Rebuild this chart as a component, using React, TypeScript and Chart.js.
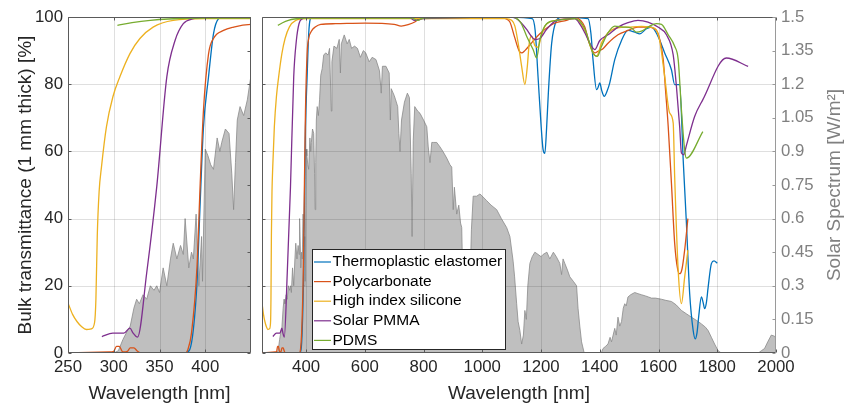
import React, { useEffect, useRef } from 'react';
import { Chart, registerables } from 'chart.js';

Chart.register(...registerables);

const FONT = '"Liberation Sans", Arial, Helvetica, sans-serif';

// Solar spectrum [nm, W/m^2/nm]
const SPECTRUM: [number, number][] = [
  [280, 0], [300, 0], [305, 0.01], [310, 0.06], [315, 0.1], [318, 0.12], [322, 0.2], [325, 0.24], [328, 0.22],
  [332, 0.26], [336, 0.24], [340, 0.3], [344, 0.28], [347, 0.3], [350, 0.27], [354, 0.38], [358, 0.3], [362, 0.42],
  [365, 0.49], [369, 0.42], [373, 0.48], [376, 0.44], [378, 0.6], [382, 0.38], [385, 0.45], [387, 0.42], [390, 0.62],
  [393, 0.3], [396, 0.52], [397, 0.32], [400, 0.91], [403, 0.88], [406, 0.84], [409, 0.82], [413, 0.96], [416, 0.9],
  [418, 0.94], [422, 1.0], [426, 0.98], [429, 0.8], [431, 0.64], [433, 0.85], [435, 1.04], [438, 1.1], [442, 1.06],
  [446, 1.13], [450, 1.24], [455, 1.27], [460, 1.33], [467, 1.34], [475, 1.33], [480, 1.36], [486, 1.08], [488, 1.3],
  [495, 1.37], [505, 1.36], [513, 1.4], [517, 1.25], [520, 1.38], [530, 1.42], [540, 1.38], [547, 1.4], [555, 1.36],
  [565, 1.37], [575, 1.36], [585, 1.32], [595, 1.35], [603, 1.34], [615, 1.3], [625, 1.32], [638, 1.31], [650, 1.26],
  [656, 1.16], [660, 1.28], [672, 1.28], [683, 1.25], [687, 1.04], [690, 1.18], [700, 1.15], [705, 1.13], [712, 1.1],
  [716, 0.98], [720, 0.9], [725, 1.04], [735, 1.12], [745, 1.16], [752, 1.14], [758, 0.8], [761, 0.52], [765, 0.95],
  [770, 1.1], [780, 1.08], [788, 1.07], [800, 1.04], [811, 1.01], [816, 0.92], [822, 0.85], [828, 0.94], [833, 0.94],
  [845, 0.94], [856, 0.92], [866, 0.9], [879, 0.87], [890, 0.84], [896, 0.83], [901, 0.64], [905, 0.74], [913, 0.62],
  [920, 0.66], [926, 0.58], [930, 0.56], [934, 0.3], [940, 0.1], [950, 0.15], [958, 0.3], [963, 0.55], [969, 0.7],
  [981, 0.7], [992, 0.71], [1000, 0.7], [1015, 0.68], [1030, 0.66], [1049, 0.64], [1065, 0.6], [1083, 0.56],
  [1094, 0.52], [1105, 0.41], [1110, 0.34], [1117, 0.22], [1122, 0.14], [1128, 0.1], [1134, 0.04], [1140, 0.08],
  [1145, 0.19], [1150, 0.15], [1155, 0.3], [1162, 0.4], [1170, 0.43], [1179, 0.45], [1190, 0.44], [1200, 0.43],
  [1207, 0.44], [1220, 0.45], [1230, 0.42], [1242, 0.45], [1252, 0.43], [1264, 0.4], [1270, 0.35], [1275, 0.42],
  [1281, 0.4], [1290, 0.37], [1298, 0.34], [1310, 0.32], [1321, 0.3], [1326, 0.2], [1332, 0.12], [1338, 0.05],
  [1347, 0], [1405, 0], [1411, 0.02], [1420, 0.03], [1428, 0.04], [1435, 0.07], [1440, 0.05], [1451, 0.11],
  [1456, 0.08], [1462, 0.16], [1468, 0.12], [1474, 0.14], [1480, 0.2], [1485, 0.22], [1490, 0.21], [1496, 0.25],
  [1505, 0.26], [1519, 0.27], [1530, 0.265], [1542, 0.26], [1555, 0.255], [1566, 0.25], [1576, 0.245], [1590, 0.245],
  [1610, 0.24], [1625, 0.235], [1644, 0.23], [1660, 0.215], [1678, 0.19], [1695, 0.175], [1712, 0.16], [1730, 0.145],
  [1746, 0.13], [1760, 0.115], [1769, 0.1], [1780, 0.07], [1791, 0.04], [1803, 0.01], [1814, 0], [1940, 0],
  [1950, 0.01], [1961, 0.02], [1972, 0.05], [1984, 0.08], [1995, 0.075], [2000, 0.065],
];

// Bulk transmittance [nm, %]
const TPE: [number, number][] = [
  [378, 0], [383, 1], [387, 7], [391, 21], [394.5, 45], [398, 67], [403.5, 82], [409, 95], [414.5, 99.5], [420, 100],
  [1100, 100], [1170, 99.5], [1180, 96], [1190, 82], [1200, 68], [1207, 60.5], [1213, 59.4], [1219, 67], [1225, 77.5],
  [1236, 92], [1253, 99], [1270, 100], [1360, 99.5], [1370, 95], [1377, 87.3], [1389, 78.4], [1394, 79], [1400, 80.4],
  [1407, 78], [1415, 76.4], [1425, 78], [1434, 80.4], [1451, 87.3], [1474, 93], [1496, 96], [1519, 95.5], [1536, 95],
  [1559, 96.5], [1576, 97], [1598, 94.3], [1621, 89.3], [1644, 84.3], [1655, 79.9], [1672, 79.9], [1684, 57.5],
  [1695, 38.6], [1706, 17.8], [1718, 6.7], [1725, 4.2], [1731, 6], [1737, 11], [1746, 16.7], [1752, 15], [1757, 13.2],
  [1763, 15], [1769, 19.6], [1780, 26.6], [1789, 27.4], [1800, 26.7],
];
const POLYCARBONATE: [number, number][] = [
  [250, 0], [295, 0.3], [300, 0.5], [303, 2], [306, 2], [310, 0.3], [315, 0.5], [318, 1.5], [322, 1.5], [326, 0.5],
  [330, 0], [378, 0], [381, 1], [385, 6], [391, 25.7], [394.5, 50.5], [398, 72], [403.6, 89], [409, 93.6], [420, 96],
  [431, 97], [450, 97.8], [500, 98], [600, 98.2], [700, 97.8], [724, 97.3], [750, 97.8], [770, 98.5], [793, 99.8],
  [850, 100], [1050, 100], [1080, 99.5], [1094, 98.5], [1110, 94], [1125, 90], [1134, 89.3], [1145, 90], [1168, 92.3],
  [1196, 95], [1242, 98], [1287, 99], [1315, 99.8], [1335, 99], [1349, 97], [1365, 92], [1383, 89.3], [1394, 89.8],
  [1410, 90.5], [1428, 92.2], [1462, 94.7], [1496, 96], [1530, 97], [1564, 97], [1593, 96], [1605, 93], [1616, 87.3],
  [1625, 77], [1633, 67.4], [1644, 50.5], [1655, 32.7], [1665, 25], [1672, 23.6], [1680, 25], [1689, 30.6], [1700, 40],
];
const SILICONE: [number, number][] = [
  [250, 14.9], [255, 11.5], [260, 9.3], [265, 7.8], [270, 7], [275.6, 7.2], [279, 9], [280.5, 16], [282, 35], [284, 48],
  [286.6, 55.4], [292, 67.3], [299, 76.2], [306.7, 82.2], [317.7, 89.1], [328.6, 93.6], [343, 97], [365, 99], [400, 99.5],
  [1080, 99.5], [1100, 99], [1111, 97.3], [1122, 92.3], [1134, 85.3], [1145, 79.9], [1153, 85], [1160, 92.3],
  [1168, 94.3], [1179, 91.5], [1190, 91], [1200, 94], [1215, 97.5], [1250, 99], [1315, 99.5], [1349, 96], [1377, 89.3],
  [1389, 88.3], [1406, 92.3], [1428, 95.3], [1462, 96.8], [1496, 97], [1542, 97.2], [1587, 96.6], [1604, 93],
  [1621, 82.3], [1638, 71.4], [1650, 68.4], [1655, 52.5], [1667, 24.6], [1678, 14.7], [1689, 22.6], [1700, 30.6],
];
const PMMA: [number, number][] = [
  [287, 4.9], [299, 5.9], [311, 5.9], [317.7, 7.4], [321, 6], [326, 4.7], [336, 23.8], [347, 49.5], [358, 82.2],
  [367, 93], [376, 98], [387, 99.5], [400, 100], [750, 100], [770, 99], [800, 99.5], [1100, 100], [1117, 99.5],
  [1135, 98], [1151, 96.3], [1165, 94.5], [1179, 93.3], [1196, 93.6], [1219, 96.3], [1253, 99], [1315, 99.5],
  [1335, 97.5], [1349, 95.3], [1372, 91.3], [1383, 90.3], [1400, 93], [1428, 94.7], [1462, 97], [1496, 98.3],
  [1530, 99], [1564, 98.5], [1598, 97], [1627, 94.7], [1650, 88.7], [1661, 79.3], [1672, 67.4], [1678, 59.5],
  [1686, 59], [1695, 61.8], [1723, 70.4], [1751, 75.4], [1831, 87.8], [1905, 85.3],
];
const PDMS: [number, number][] = [
  [304, 97.5], [320, 98.3], [340, 99], [360, 99.4], [400, 99.7], [760, 99.7], [780, 99], [800, 99.7], [1100, 100],
  [1130, 98.5], [1151, 94.3], [1173, 90.3], [1185, 87.8], [1196, 93.3], [1219, 98], [1253, 99], [1315, 99.5],
  [1349, 96.5], [1377, 89.3], [1392, 88.3], [1406, 91.3], [1428, 95.3], [1451, 97.3], [1479, 97], [1508, 96.7],
  [1525, 95.5], [1542, 95.8], [1570, 97.3], [1593, 98], [1610, 97.8], [1633, 94.7], [1655, 91.3], [1667, 87.3],
  [1678, 72.4], [1689, 60.4], [1695, 58], [1751, 65.9],
];

const SERIES = [TPE, POLYCARBONATE, SILICONE, PMMA, PDMS];
const SERIES_NAMES = ['Thermoplastic elastomer', 'Polycarbonate', 'High index silicone', 'Solar PMMA', 'PDMS'];
const SERIES_COLORS = ['#0072BD', '#D95319', '#EDB120', '#7E2F8E', '#77AC30'];

const LEFT_X_TICKS = [250, 300, 350, 400];
const RIGHT_X_TICKS = [400, 600, 800, 1000, 1200, 1400, 1600, 1800, 2000];
const PCT_TICKS = [0, 20, 40, 60, 80, 100];
const SPEC_TICKS = [0, 0.15, 0.3, 0.45, 0.6, 0.75, 0.9, 1.05, 1.2, 1.35, 1.5];

const W = 847;
const H = 406;
const DARK = '#262626';
const GRAY = '#808080';

const toXY = (arr: [number, number][]) => arr.map(([x, y]) => ({ x, y }));

const decorPlugin = {
  id: 'decor',
  afterDatasetDraw(chart: any, args: any, opts: any) {
    if (!chart.data.datasets[args.index].isSpectrum) return;
    const { ctx, chartArea: a, scales } = chart;
    ctx.save();
    ctx.strokeStyle = 'rgba(38,38,38,0.15)';
    ctx.lineWidth = 1;
    ctx.beginPath();
    for (const v of opts.xTicks) {
      const px = Math.round(scales.x.getPixelForValue(v)) + 0.5;
      if (px > a.left + 2 && px < a.right - 2) {
        ctx.moveTo(px, a.top);
        ctx.lineTo(px, a.bottom);
      }
    }
    for (const v of PCT_TICKS) {
      const py = Math.round(scales.y.getPixelForValue(v)) + 0.5;
      if (py > a.top + 2 && py < a.bottom - 2) {
        ctx.moveTo(a.left, py);
        ctx.lineTo(a.right, py);
      }
    }
    ctx.stroke();
    ctx.restore();
  },
  afterDraw(chart: any, _args: any, opts: any) {
    const { ctx, chartArea: a, scales } = chart;
    const L = a.left + 0.5, R = a.right - 0.5, T = a.top + 0.5, B = a.bottom - 0.5;
    const TL = 3;
    ctx.save();
    ctx.lineWidth = 1;
    // frame
    ctx.strokeStyle = '#5a5a5a';
    ctx.beginPath();
    ctx.moveTo(R, T); ctx.lineTo(L, T); ctx.lineTo(L, B); ctx.lineTo(R, B);
    for (const v of opts.xTicks) {
      const px = Math.round(scales.x.getPixelForValue(v)) + 0.5;
      ctx.moveTo(px, B); ctx.lineTo(px, B - TL);
      ctx.moveTo(px, T); ctx.lineTo(px, T + TL);
    }
    for (const v of PCT_TICKS) {
      const py = Math.round(scales.y.getPixelForValue(v)) + 0.5;
      ctx.moveTo(L, py); ctx.lineTo(L + TL, py);
    }
    ctx.stroke();
    ctx.strokeStyle = opts.right ? '#9a9a9a' : '#5a5a5a';
    ctx.beginPath();
    ctx.moveTo(R, T); ctx.lineTo(R, B);
    for (const v of SPEC_TICKS) {
      const py = Math.round(scales.y2.getPixelForValue(v)) + 0.5;
      ctx.moveTo(R, py); ctx.lineTo(R - TL, py);
    }
    ctx.stroke();

    if (opts.right) {
      // right axis title
      ctx.save();
      ctx.translate(835, (a.top + a.bottom) / 2);
      ctx.rotate(-Math.PI / 2);
      ctx.fillStyle = GRAY;
      ctx.font = `19px ${FONT}`;
      ctx.textAlign = 'center';
      ctx.textBaseline = 'middle';
      ctx.fillText('Solar Spectrum [W/m²]', 0, 0);
      ctx.restore();

      // legend
      const lx = 312.5, ly = 249.5, lw = 193, lh = 100;
      ctx.fillStyle = '#ffffff';
      ctx.fillRect(lx, ly, lw, lh);
      ctx.strokeStyle = DARK;
      ctx.strokeRect(lx, ly, lw, lh);
      ctx.font = `15.5px ${FONT}`;
      ctx.textAlign = 'left';
      ctx.textBaseline = 'middle';
      SERIES_NAMES.forEach((name, i) => {
        const y = ly + 12.5 + i * 19.6;
        ctx.strokeStyle = SERIES_COLORS[i];
        ctx.lineWidth = 1.2;
        ctx.beginPath();
        ctx.moveTo(lx + 1.5, y);
        ctx.lineTo(lx + 18.5, y);
        ctx.stroke();
        ctx.fillStyle = '#000';
        ctx.fillText(name, lx + 20, y);
      });
    }
    ctx.restore();
  },
};

function makeConfig(right: boolean): any {
  const xTicks = right ? RIGHT_X_TICKS : LEFT_X_TICKS;
  const datasets: any[] = [
    {
      isSpectrum: true,
      data: toXY(SPECTRUM),
      yAxisID: 'y2',
      borderColor: '#8a8a8a',
      borderWidth: 0.8,
      backgroundColor: '#bfbfbf',
      fill: 'origin',
      pointRadius: 0,
      tension: 0,
      order: 10,
    },
    ...SERIES.map((s, i) => ({
      data: toXY(s),
      yAxisID: 'y',
      borderColor: SERIES_COLORS[i],
      borderWidth: 1.3,
      pointRadius: 0,
      fill: false,
      cubicInterpolationMode: 'monotone',
      order: 5 - i,
    })),
  ];
  const tickFont = { family: FONT, size: 16.8, lineHeight: 1.2 };
  return {
    type: 'line',
    data: { datasets },
    plugins: [decorPlugin],
    options: {
      responsive: false,
      animation: false,
      events: [],
      layout: right
        ? { padding: { top: 17, left: 0, right: 0, bottom: 0 } }
        : { padding: { top: 17, left: 0, right: W - 251, bottom: 0 } },
      plugins: {
        legend: { display: false },
        tooltip: { enabled: false },
        decor: { xTicks, right },
      },
      scales: {
        x: {
          type: 'linear',
          min: 250,
          max: right ? 2000 : 450,
          afterBuildTicks: (s: any) => { s.ticks = xTicks.map((v) => ({ value: v })); },
          afterFit: (s: any) => { s.height = H - 353; },
          grid: { display: false, drawTicks: false },
          border: { display: false },
          ticks: {
            font: tickFont,
            color: DARK,
            padding: 4,
            maxRotation: 0,
            autoSkip: false,
            callback: (v: number) => String(v),
          },
          title: {
            display: true,
            text: 'Wavelength [nm]',
            font: { family: FONT, size: 19, lineHeight: 1.2 },
            color: DARK,
            padding: { top: 0, bottom: 1 },
          },
        },
        y: {
          position: 'left',
          min: 0,
          max: 100,
          afterBuildTicks: (s: any) => { s.ticks = PCT_TICKS.map((v) => ({ value: v })); },
          afterFit: (s: any) => { s.width = right ? 262 : 68; },
          grid: { display: false, drawTicks: false },
          border: { display: false },
          ticks: { display: !right, font: tickFont, color: DARK, padding: 5, callback: (v: number) => String(v) },
          title: {
            display: !right,
            text: 'Bulk transmittance (1 mm thick) [%]',
            font: { family: FONT, size: 19, lineHeight: 1.2 },
            color: DARK,
            padding: { top: 14.5, bottom: 0 },
          },
        },
        y2: {
          position: 'right',
          display: right,
          min: 0,
          max: 1.5,
          afterBuildTicks: (s: any) => { s.ticks = SPEC_TICKS.map((v) => ({ value: v })); },
          afterFit: (s: any) => { s.width = right ? W - 776 : 0; },
          grid: { display: false, drawTicks: false },
          border: { display: false },
          ticks: {
            font: tickFont,
            color: GRAY,
            padding: 5,
            callback: (v: number) => String(Number(v.toFixed(2))),
          },
        },
      },
    },
  };
}

function Panel({ right }: { right: boolean }) {
  const ref = useRef<HTMLCanvasElement | null>(null);
  useEffect(() => {
    if (!ref.current) return;
    const chart = new Chart(ref.current, makeConfig(right));
    return () => chart.destroy();
  }, [right]);
  return (
    <canvas
      ref={ref}
      width={W}
      height={H}
      style={{ position: 'absolute', left: 0, top: 0, width: W, height: H }}
    />
  );
}

export default function App() {
  return (
    <div style={{ position: 'fixed', left: 0, top: 0, width: W, height: H, background: '#fff' }}>
      <Panel right={false} />
      <Panel right={true} />
    </div>
  );
}
